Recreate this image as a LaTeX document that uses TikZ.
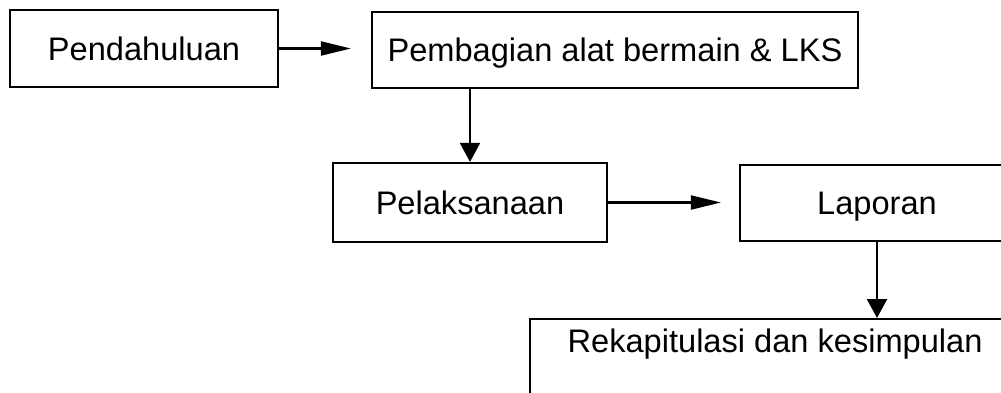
\documentclass[tikz,border=0pt]{standalone}
\usepackage{fontspec}
\setmainfont{Liberation Sans}
\usetikzlibrary{arrows.meta}
\begin{document}
\begin{tikzpicture}[x=1pt,y=-1pt,
  box/.style={draw,line width=2.2pt,rectangle,inner xsep=0pt,inner ysep=0pt,
    font=\fontsize{32.6}{36}\selectfont,text height=23.3pt,text depth=0pt},
  harrow/.style={line width=2.2pt,-{Triangle[length=30pt,width=14pt]}},
  varrow/.style={line width=2.2pt,-{Triangle[length=19pt,width=20pt]}}]
\useasboundingbox (0,0) rectangle (1001,392);
\clip (0,0) rectangle (1001,392);
\node[box,minimum width=268pt,minimum height=77pt] (b1) at (144,48.5) {Pendahuluan};
\node[box,minimum width=486pt,minimum height=76pt] (b2) at (615,50) {Pembagian alat bermain \& LKS};
\node[box,minimum width=274pt,minimum height=79pt] (b3) at (470,202.5) {Pelaksanaan};
\node[box,minimum width=274pt,minimum height=76pt] (b4) at (877,203) {Laporan};
\node[box,anchor=north west,minimum width=490pt,inner ysep=10.3pt,text depth=60pt] (b5) at (529,318) {Rekapitulasi dan kesimpulan};
\draw[harrow,shorten >=20pt] (b1.east) -- (b1.east -| b2.west);
\draw[varrow] (b3.north |- b2.south) -- (b3.north);
\draw[harrow,shorten >=18pt] (b3.east) -- (b3.east -| b4.west);
\draw[varrow] (b4.south) -- (b4.south |- b5.north);
\end{tikzpicture}
\end{document}
